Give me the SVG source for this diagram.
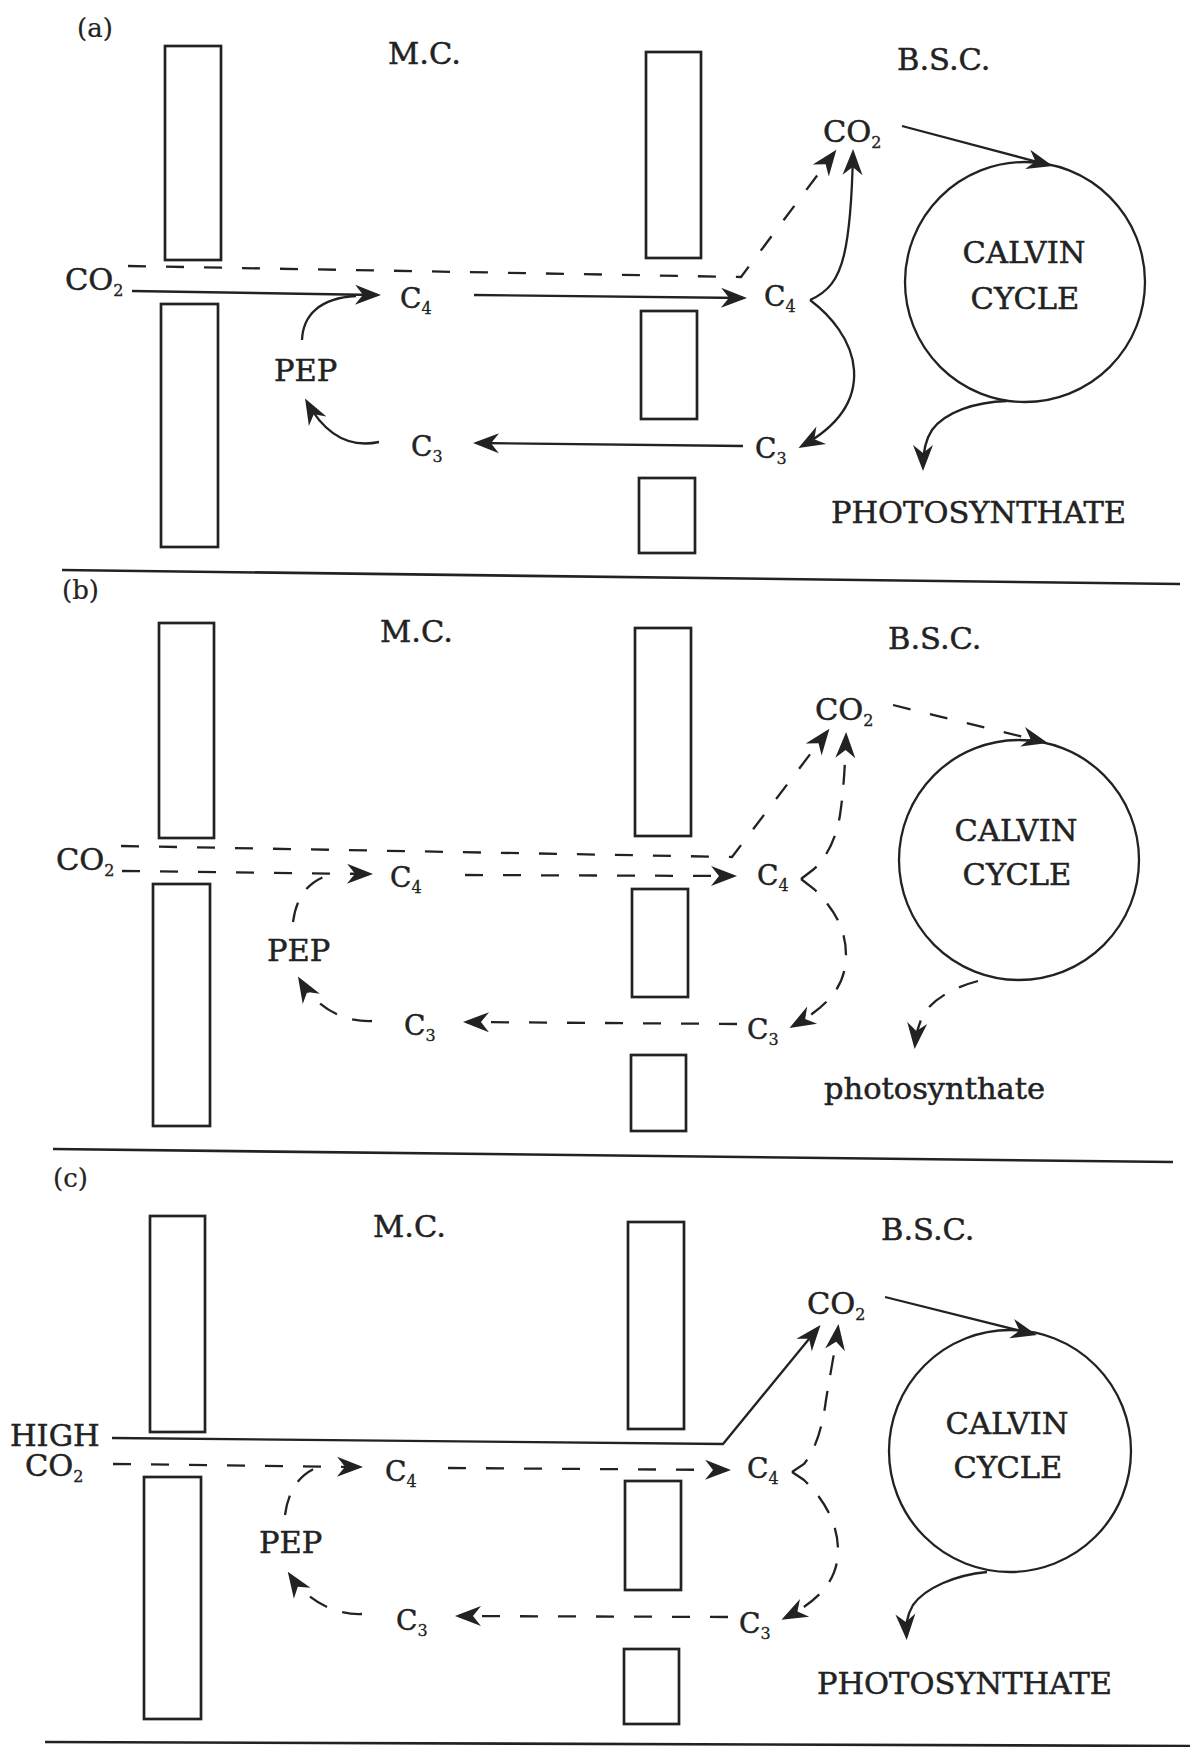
<svg xmlns="http://www.w3.org/2000/svg" width="1190" height="1747" viewBox="0 0 1190 1747">
<style>
.t{font-family:"DejaVu Serif","Liberation Serif",serif;font-size:30.5px;fill:#222;stroke:#222;stroke-width:0.5}
.c{font-size:28px}
.s{font-size:16px;stroke-width:0.3}
.lb{font-size:26px;stroke-width:0.2}
.bx{fill:none;stroke:#222;stroke-width:2.7}
.ln{fill:none;stroke:#222;stroke-width:2.3}
.ds{stroke-dasharray:18 20}
.db{stroke-dasharray:20 16}
.sep{fill:none;stroke:#222;stroke-width:2.6}
</style>
<defs>
<marker id="ah" viewBox="-24 -11 29 22" refX="0" refY="0" markerWidth="29" markerHeight="22" orient="auto" markerUnits="userSpaceOnUse">
<path d="M4,0 L-22,-10 L-14,0 L-22,10 Z" fill="#222" stroke="none"/>
</marker>
</defs>
<rect width="1190" height="1747" fill="#fff"/>

<!-- Panel (a) -->
<g id="panel-a">
<g id="a-label"><text class="t lb" x="77" y="37">(a)</text></g>
<g id="a-wall-l1"><rect class="bx" x="165" y="46" width="56" height="214"/></g>
<g id="a-wall-l2"><rect class="bx" x="161" y="304" width="57" height="243"/></g>
<g id="a-wall-m1"><rect class="bx" x="646" y="52" width="55" height="206"/></g>
<g id="a-wall-m2"><rect class="bx" x="641" y="311" width="56" height="108"/></g>
<g id="a-wall-m3"><rect class="bx" x="639" y="478" width="56" height="75"/></g>
<g id="a-mc"><text class="t" x="388" y="64">M.C.</text></g>
<g id="a-bsc"><text class="t" x="897" y="70">B.S.C.</text></g>
<g id="a-co2-in"><text class="t" x="65" y="290">CO<tspan class="s" dy="6">2</tspan></text></g>
<g id="a-c4-mc"><text class="t c" x="400" y="308">C<tspan class="s" dy="6">4</tspan></text></g>
<g id="a-c4-bsc"><text class="t c" x="764" y="306">C<tspan class="s" dy="6">4</tspan></text></g>
<g id="a-co2-bsc"><text class="t" x="823" y="142">CO<tspan class="s" dy="6">2</tspan></text></g>
<g id="a-c3-bsc"><text class="t c" x="755" y="458">C<tspan class="s" dy="6">3</tspan></text></g>
<g id="a-c3-mc"><text class="t c" x="411" y="456">C<tspan class="s" dy="6">3</tspan></text></g>
<g id="a-pep"><text class="t" x="274" y="381">PEP</text></g>
<g id="a-calvin"><circle class="ln" cx="1025" cy="282" r="120"/>
<text class="t" x="1024" y="263" text-anchor="middle">CALVIN</text>
<text class="t" x="1025" y="309" text-anchor="middle">CYCLE</text></g>
<g id="a-photo"><text class="t" x="831" y="523">PHOTOSYNTHATE</text></g>
</g>

<!-- Panel (b) -->
<g id="panel-b">
<g id="b-label"><text class="t lb" x="62" y="599">(b)</text></g>
<g id="b-wall-l1"><rect class="bx" x="159" y="623" width="55" height="215"/></g>
<g id="b-wall-l2"><rect class="bx" x="153" y="884" width="57" height="242"/></g>
<g id="b-wall-m1"><rect class="bx" x="635" y="628" width="56" height="208"/></g>
<g id="b-wall-m2"><rect class="bx" x="632" y="889" width="56" height="108"/></g>
<g id="b-wall-m3"><rect class="bx" x="631" y="1055" width="55" height="76"/></g>
<g id="b-mc"><text class="t" x="380" y="642">M.C.</text></g>
<g id="b-bsc"><text class="t" x="888" y="649">B.S.C.</text></g>
<g id="b-co2-in"><text class="t" x="56" y="870">CO<tspan class="s" dy="6">2</tspan></text></g>
<g id="b-c4-mc"><text class="t c" x="390" y="887">C<tspan class="s" dy="6">4</tspan></text></g>
<g id="b-c4-bsc"><text class="t c" x="757" y="885">C<tspan class="s" dy="6">4</tspan></text></g>
<g id="b-co2-bsc"><text class="t" x="815" y="720">CO<tspan class="s" dy="6">2</tspan></text></g>
<g id="b-c3-bsc"><text class="t c" x="747" y="1039">C<tspan class="s" dy="6">3</tspan></text></g>
<g id="b-c3-mc"><text class="t c" x="404" y="1035">C<tspan class="s" dy="6">3</tspan></text></g>
<g id="b-pep"><text class="t" x="267" y="961">PEP</text></g>
<g id="b-calvin"><circle class="ln" cx="1019" cy="860" r="120"/>
<text class="t" x="1016" y="841" text-anchor="middle">CALVIN</text>
<text class="t" x="1017" y="885" text-anchor="middle">CYCLE</text></g>
<g id="b-photo"><text class="t" x="824" y="1099">photosynthate</text></g>
</g>

<!-- Panel (c) -->
<g id="panel-c">
<g id="c-label"><text class="t lb" x="53" y="1187">(c)</text></g>
<g id="c-wall-l1"><rect class="bx" x="150" y="1216" width="55" height="216"/></g>
<g id="c-wall-l2"><rect class="bx" x="144" y="1477" width="57" height="242"/></g>
<g id="c-wall-m1"><rect class="bx" x="628" y="1222" width="56" height="207"/></g>
<g id="c-wall-m2"><rect class="bx" x="625" y="1481" width="56" height="109"/></g>
<g id="c-wall-m3"><rect class="bx" x="624" y="1649" width="55" height="75"/></g>
<g id="c-mc"><text class="t" x="373" y="1237">M.C.</text></g>
<g id="c-bsc"><text class="t" x="881" y="1240">B.S.C.</text></g>
<g id="c-high"><text class="t" x="10" y="1446">HIGH<tspan x="25" dy="30">CO</tspan><tspan class="s" dy="6">2</tspan></text></g>
<g id="c-c4-mc"><text class="t c" x="385" y="1481">C<tspan class="s" dy="6">4</tspan></text></g>
<g id="c-c4-bsc"><text class="t c" x="747" y="1478">C<tspan class="s" dy="6">4</tspan></text></g>
<g id="c-co2-bsc"><text class="t" x="807" y="1314">CO<tspan class="s" dy="6">2</tspan></text></g>
<g id="c-c3-bsc"><text class="t c" x="739" y="1633">C<tspan class="s" dy="6">3</tspan></text></g>
<g id="c-c3-mc"><text class="t c" x="396" y="1630">C<tspan class="s" dy="6">3</tspan></text></g>
<g id="c-pep"><text class="t" x="259" y="1553">PEP</text></g>
<g id="c-calvin"><circle class="ln" cx="1010" cy="1451" r="121"/>
<text class="t" x="1007" y="1434" text-anchor="middle">CALVIN</text>
<text class="t" x="1008" y="1478" text-anchor="middle">CYCLE</text></g>
<g id="c-photo"><text class="t" x="817" y="1694">PHOTOSYNTHATE</text></g>
</g>

<!-- Connectors -->
<g id="connectors">
<path class="sep" d="M62,570 L1180,584"/>
<path class="sep" d="M53,1149 L1173,1162"/>
<path class="sep" d="M45,1742 L1190,1746"/>

<!-- (a) -->
<path class="ln ds" d="M128,266 L741,277 L834,153" marker-end="url(#ah)"/>
<path class="ln" d="M132,291 L377,295" marker-end="url(#ah)"/>
<path class="ln" d="M474,295 L743,298" marker-end="url(#ah)"/>
<path class="ln" d="M810,300 C828,292 838,280 844,255 C850,230 852,200 853,153" marker-end="url(#ah)"/>
<path class="ln" d="M810,300 C830,315 852,340 854,370 C856,400 840,425 802,446" marker-end="url(#ah)"/>
<path class="ln" d="M743,446 L477,443" marker-end="url(#ah)"/>
<path class="ln" d="M302,340 C303,315 320,298 356,296"/>
<path class="ln" d="M379,442 C355,447 328,440 307,402" marker-end="url(#ah)"/>
<path class="ln" d="M902,126 L1049,165" marker-end="url(#ah)"/>
<path class="ln" d="M1007,401 C975,402 945,412 932,430 C924,442 923,455 923,467" marker-end="url(#ah)"/>

<!-- (b) -->
<path class="ln ds" d="M121,846 L732,857 L827,732" marker-end="url(#ah)"/>
<path class="ln ds" d="M122,871 L369,874" marker-end="url(#ah)"/>
<path class="ln ds" d="M465,875 L733,876" marker-end="url(#ah)"/>
<path class="ln db" d="M801,879 L814,869 C826,858 836,840 840,815 C843,795 845,770 846,736" marker-end="url(#ah)"/>
<path class="ln db" d="M801,879 L814,889 C830,905 846,925 846,955 C846,985 830,1005 793,1026" marker-end="url(#ah)"/>
<path class="ln ds" d="M737,1024 L467,1022" marker-end="url(#ah)"/>
<path class="ln db" d="M293,922 C296,900 305,884 326,876"/>
<path class="ln db" d="M372,1021 C345,1022 318,1010 300,980" marker-end="url(#ah)"/>
<path class="ln ds" d="M893,705 L1044,742" marker-end="url(#ah)"/>
<path class="ln db" d="M978,981 C955,987 935,998 925,1012 C918,1024 916,1035 915,1045" marker-end="url(#ah)"/>

<!-- (c) -->
<path class="ln" d="M112,1438 L723,1444 L818,1328" marker-end="url(#ah)"/>
<path class="ln ds" d="M113,1464 L359,1467" marker-end="url(#ah)"/>
<path class="ln ds" d="M448,1468 L727,1470" marker-end="url(#ah)"/>
<path class="ln db" d="M792,1472 L804,1464 C815,1450 822,1430 826,1400 C830,1375 835,1350 838,1328" marker-end="url(#ah)"/>
<path class="ln db" d="M792,1472 L804,1480 C820,1495 838,1520 838,1550 C838,1580 820,1600 785,1618" marker-end="url(#ah)"/>
<path class="ln ds" d="M728,1617 L459,1616" marker-end="url(#ah)"/>
<path class="ln db" d="M285,1515 C288,1492 298,1475 318,1467"/>
<path class="ln db" d="M362,1614 C340,1615 310,1605 290,1575" marker-end="url(#ah)"/>
<path class="ln" d="M885,1297 L1033,1334" marker-end="url(#ah)"/>
<path class="ln" d="M987,1572 C955,1575 925,1588 913,1605 C906,1617 906,1626 906.5,1636" marker-end="url(#ah)"/>
</g>
</svg>
